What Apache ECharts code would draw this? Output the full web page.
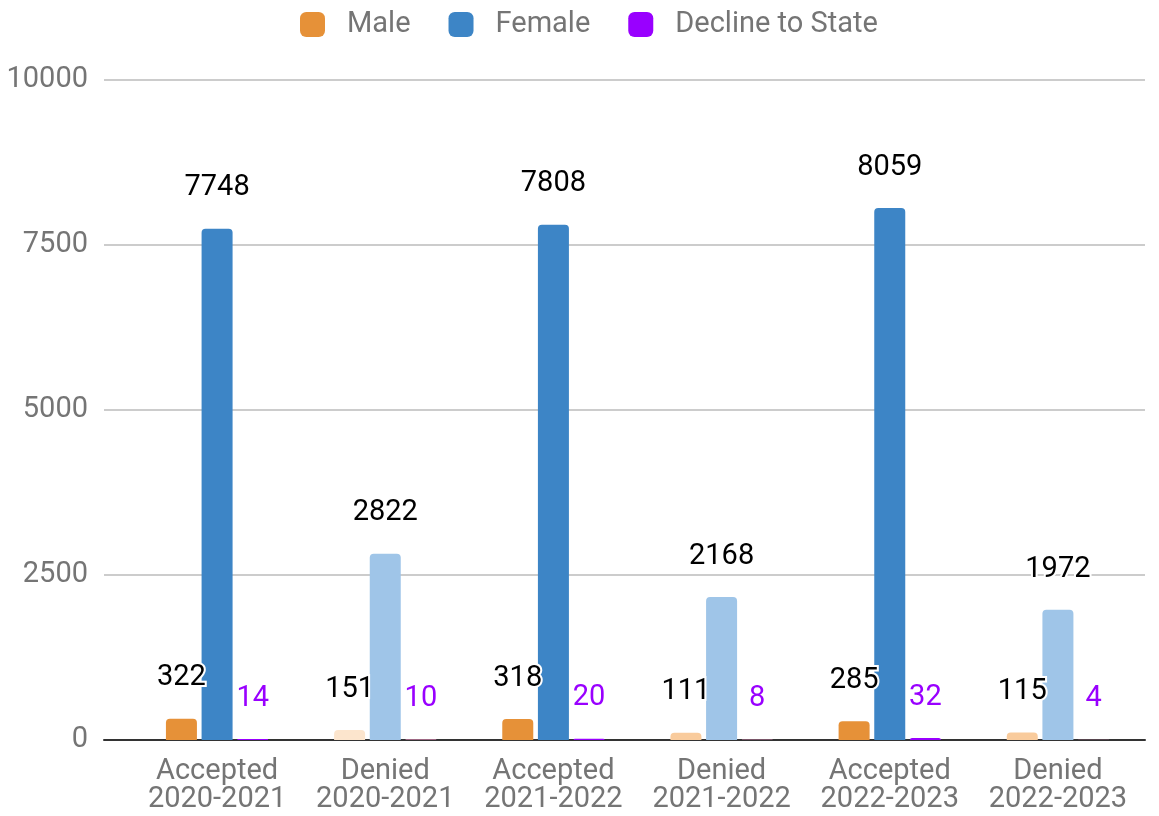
<!DOCTYPE html>
<html>
<head>
<meta charset="utf-8">
<script src="https://cdn.jsdelivr.net/npm/echarts@6/dist/echarts.min.js"></script>
<style>
  html, body { margin: 0; padding: 0; background: #fff; }
  #chart { width: 1159px; height: 816px; }
</style>
</head>
<body>
<div id="chart"></div>
<script>
// categories and values
const categories = ['Accepted\n2020-2021', 'Denied\n2020-2021', 'Accepted\n2021-2022', 'Denied\n2021-2022', 'Accepted\n2022-2023', 'Denied\n2022-2023'];
const male = [322, 151, 318, 111, 285, 115];
const female = [7748, 2822, 7808, 2168, 8059, 1972];
const decline = [14, 10, 20, 8, 32, 4];
const yTicks = [0, 2500, 5000, 7500, 10000];

// colours per bar (denied bars are lighter)
const maleColors = ['#e69138', '#fce5cd', '#e69138', '#f9cb9c', '#e69138', '#f9cb9c'];
const femaleColors = ['#3d85c6', '#9fc5e8', '#3d85c6', '#9fc5e8', '#3d85c6', '#9fc5e8'];
const declineColors = ['#9900ff', '#c27ba0', '#9900ff', '#c27ba0', '#9900ff', '#c27ba0'];

const chart = echarts.init(document.getElementById('chart'));

function withColors(values, colors) {
    return values.map((v, i) => ({ value: v, itemStyle: { color: colors[i] } }));
}

const labelStyle = {
    show: true,
    position: 'top',
    distance: 26,
    fontFamily: 'Roboto',
    fontSize: 29,
    color: '#000',
    textBorderColor: '#fff',
    textBorderWidth: 4
};

const option = {
    animation: false,
    textStyle: { fontFamily: 'Roboto' },
    legend: {
        top: 5,
        left: 295,
        icon: 'roundRect',
        itemWidth: 25,
        itemHeight: 25,
        itemGap: 38,
        textStyle: { color: '#757575', fontSize: 29, padding: [0, 0, 0, 17] },
        data: ['Male', 'Female', 'Decline to State']
    },
    grid: [
        { left: 133, right: 17, top: 80, bottom: 76 },
        { left: 104, right: 14, top: 80, bottom: 76 }
    ],
    xAxis: [
        {
            type: 'category',
            gridIndex: 0,
            data: categories,
            axisLine: { show: false },
            axisTick: { show: false },
            axisLabel: { color: '#757575', fontSize: 29, lineHeight: 28, margin: 18, interval: 0 }
        },
        {
            type: 'value',
            gridIndex: 1,
            min: 0,
            max: 1,
            z: 0,
            axisLine: { show: true, onZero: false, lineStyle: { color: '#333', width: 2 } },
            axisTick: { show: false },
            axisLabel: { show: false },
            splitLine: { show: false }
        }
    ],
    yAxis: [
        {
            type: 'value',
            gridIndex: 0,
            min: yTicks[0],
            max: yTicks[yTicks.length - 1],
            interval: 2500,
            show: false
        },
        {
            type: 'value',
            gridIndex: 1,
            min: yTicks[0],
            max: yTicks[yTicks.length - 1],
            interval: 2500,
            z: 0,
            axisLine: { show: false },
            axisTick: { show: false },
            axisLabel: { color: '#757575', fontSize: 29, margin: 16, formatter: v => String(v) },
            splitLine: { lineStyle: { color: '#cccccc', width: 2 } }
        }
    ],
    series: [
        {
            name: 'Male',
            type: 'bar',
            xAxisIndex: 0,
            yAxisIndex: 0,
            barWidth: 31,
            barGap: '15%',
            itemStyle: { color: '#e69138', borderRadius: [4, 4, 0, 0] },
            label: labelStyle,
            data: withColors(male, maleColors)
        },
        {
            name: 'Female',
            type: 'bar',
            xAxisIndex: 0,
            yAxisIndex: 0,
            barWidth: 31,
            barGap: '15%',
            itemStyle: { color: '#3d85c6', borderRadius: [4, 4, 0, 0] },
            label: labelStyle,
            data: withColors(female, femaleColors)
        },
        {
            name: 'Decline to State',
            type: 'bar',
            xAxisIndex: 0,
            yAxisIndex: 0,
            barWidth: 31,
            barGap: '15%',
            itemStyle: { color: '#9900ff', borderRadius: [4, 4, 0, 0] },
            label: Object.assign({}, labelStyle, { color: '#9900ff' }),
            data: withColors(decline, declineColors)
        }
    ]
};

chart.setOption(option);
</script>
</body>
</html>
